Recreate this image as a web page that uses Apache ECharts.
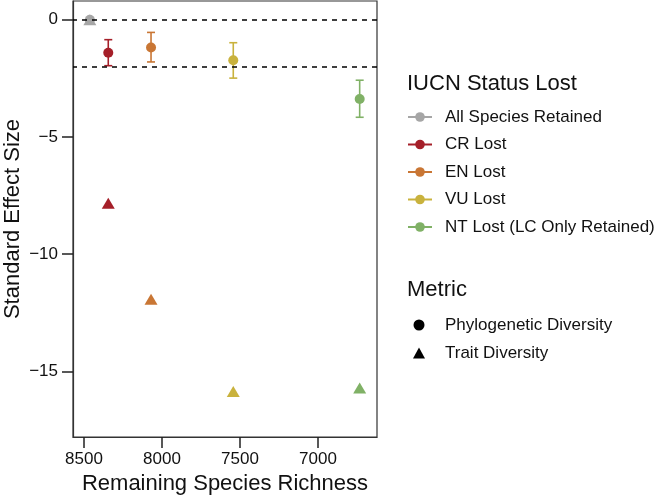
<!DOCTYPE html>
<html>
<head>
<meta charset="utf-8">
<script src="https://cdn.jsdelivr.net/npm/echarts@6/dist/echarts.min.js"></script>
<style>html,body{margin:0;padding:0;background:#fff}#c{width:660px;height:497px}</style>
</head>
<body>
<div id="c"></div>
<script>
const statusNames = ['All Species Retained', 'CR Lost', 'EN Lost', 'VU Lost', 'NT Lost (LC Only Retained)'];
const statusColors = ['#a6a6a6', '#a51f29', '#c97634', '#c9b23d', '#80b166'];
const richness = [8462, 8344, 8070, 7543, 6733];
const pdSES = [0, -1.41, -1.18, -1.73, -3.38];
const pdLower = [0, -1.96, -1.80, -2.49, -4.16];
const pdUpper = [0, -0.85, -0.54, -0.98, -2.58];
const tdSES = [0, -7.83, -11.92, -15.86, -15.71];
const metricNames = ['Phylogenetic Diversity', 'Trait Diversity'];
const xTicks = [8500, 8000, 7500, 7000];
const yTicks = [0, -5, -10, -15];
const refLines = [0, -2];

const FONT = 'Liberation Sans, Arial, sans-serif';
const fmt = v => String(v).replace('-', '\u2212');

const series = [];
series.push({
  type: 'line', data: [], silent: true, z: 1,
  markLine: {
    silent: true, symbol: 'none', label: {show: false},
    lineStyle: {color: '#000', type: [5, 5], width: 1.7},
    data: refLines.map(v => ({yAxis: v}))
  }
});
series.push({
  type: 'custom', z: 2, silent: true,
  data: statusNames.map((n, i) => [richness[i], pdLower[i], pdUpper[i], i]),
  renderItem: function (params, api) {
    const x = api.value(0), lo = api.value(1), hi = api.value(2), i = api.value(3);
    if (lo === hi) return null;
    const p1 = api.coord([x, lo]), p2 = api.coord([x, hi]);
    const w = 4;
    const st = {stroke: statusColors[i], lineWidth: 1.6};
    return {type: 'group', children: [
      {type: 'line', shape: {x1: p1[0], y1: p1[1], x2: p2[0], y2: p2[1]}, style: st},
      {type: 'line', shape: {x1: p1[0] - w, y1: p1[1], x2: p1[0] + w, y2: p1[1]}, style: st},
      {type: 'line', shape: {x1: p2[0] - w, y1: p2[1], x2: p2[0] + w, y2: p2[1]}, style: st}
    ]};
  }
});
statusNames.forEach((n, i) => {
  series.push({
    type: 'line', name: n, z: 3,
    data: [[richness[i], pdSES[i]]],
    symbol: 'circle', symbolSize: 10, showSymbol: true,
    itemStyle: {color: statusColors[i], opacity: 1},
    lineStyle: {color: statusColors[i], width: 1.5}
  });
});
statusNames.forEach((n, i) => {
  series.push({
    type: 'scatter', name: n, z: 4,
    data: [[richness[i], tdSES[i]]],
    symbol: 'triangle', symbolSize: [13, 11],
    itemStyle: {color: statusColors[i], opacity: 1}
  });
});
metricNames.forEach((n, i) => {
  series.push({type: 'scatter', name: n, data: [], symbol: i === 0 ? 'circle' : 'triangle', itemStyle: {color: '#000', opacity: 1}});
});

const chart = echarts.init(document.getElementById('c'));
chart.setOption({
  animation: false,
  backgroundColor: '#fff',
  textStyle: {fontFamily: FONT},
  grid: {left: 73, right: 283, top: 1, bottom: 60, outerBoundsMode: 'none', containLabel: false, show: true, borderColor: '#333', borderWidth: 1.2, backgroundColor: 'transparent'},
  title: [
    {text: 'IUCN Status Lost', left: 407, top: 73, padding: 0, textStyle: {fontFamily: FONT, fontSize: 22, fontWeight: 'normal', color: '#111'}},
    {text: 'Metric', left: 407, top: 279, padding: 0, textStyle: {fontFamily: FONT, fontSize: 22, fontWeight: 'normal', color: '#111'}}
  ],
  legend: [
    {
      data: statusNames, orient: 'vertical', left: 407, top: 108.5, padding: 0,
      itemWidth: 24, itemHeight: 12, itemGap: 10.5,
      textStyle: {fontFamily: FONT, fontSize: 17, color: '#111', padding: [0, 0, 0, 8]},
      selectedMode: false
    },
    {
      data: [{name: metricNames[0], icon: 'circle'}, {name: metricNames[1], icon: 'triangle'}],
      orient: 'vertical', left: 413, top: 316.5, padding: 0,
      itemWidth: 12, itemHeight: 11, itemGap: 11,
      textStyle: {fontFamily: FONT, fontSize: 17, color: '#111', padding: [0, 0, 0, 15]},
      selectedMode: false
    }
  ],
  xAxis: {
    type: 'value', inverse: true, min: 6622, max: 8570,
    name: 'Remaining Species Richness', nameLocation: 'middle', nameGap: 34,
    nameTextStyle: {fontFamily: FONT, fontSize: 22, color: '#111'},
    axisLine: {show: true, onZero: false, lineStyle: {color: '#333', width: 1.2}},
    axisTick: {show: true, length: 11, customValues: xTicks, lineStyle: {color: '#222', width: 1.5}},
    axisLabel: {customValues: xTicks, margin: 14, fontSize: 17, color: '#111', fontFamily: FONT, formatter: fmt},
    splitLine: {show: false}
  },
  yAxis: {
    type: 'value', min: -17.8, max: 0.8,
    name: 'Standard Effect Size', nameLocation: 'middle', nameGap: 49,
    nameTextStyle: {fontFamily: FONT, fontSize: 22, color: '#111'},
    axisLine: {show: true, onZero: false, lineStyle: {color: '#333', width: 1.2}},
    axisTick: {show: true, length: 11, customValues: yTicks, lineStyle: {color: '#222', width: 1.5}},
    axisLabel: {customValues: yTicks, margin: 15, fontSize: 17, color: '#111', fontFamily: FONT, formatter: fmt},
    splitLine: {show: false}
  },
  series: series
});
</script>
</body>
</html>
